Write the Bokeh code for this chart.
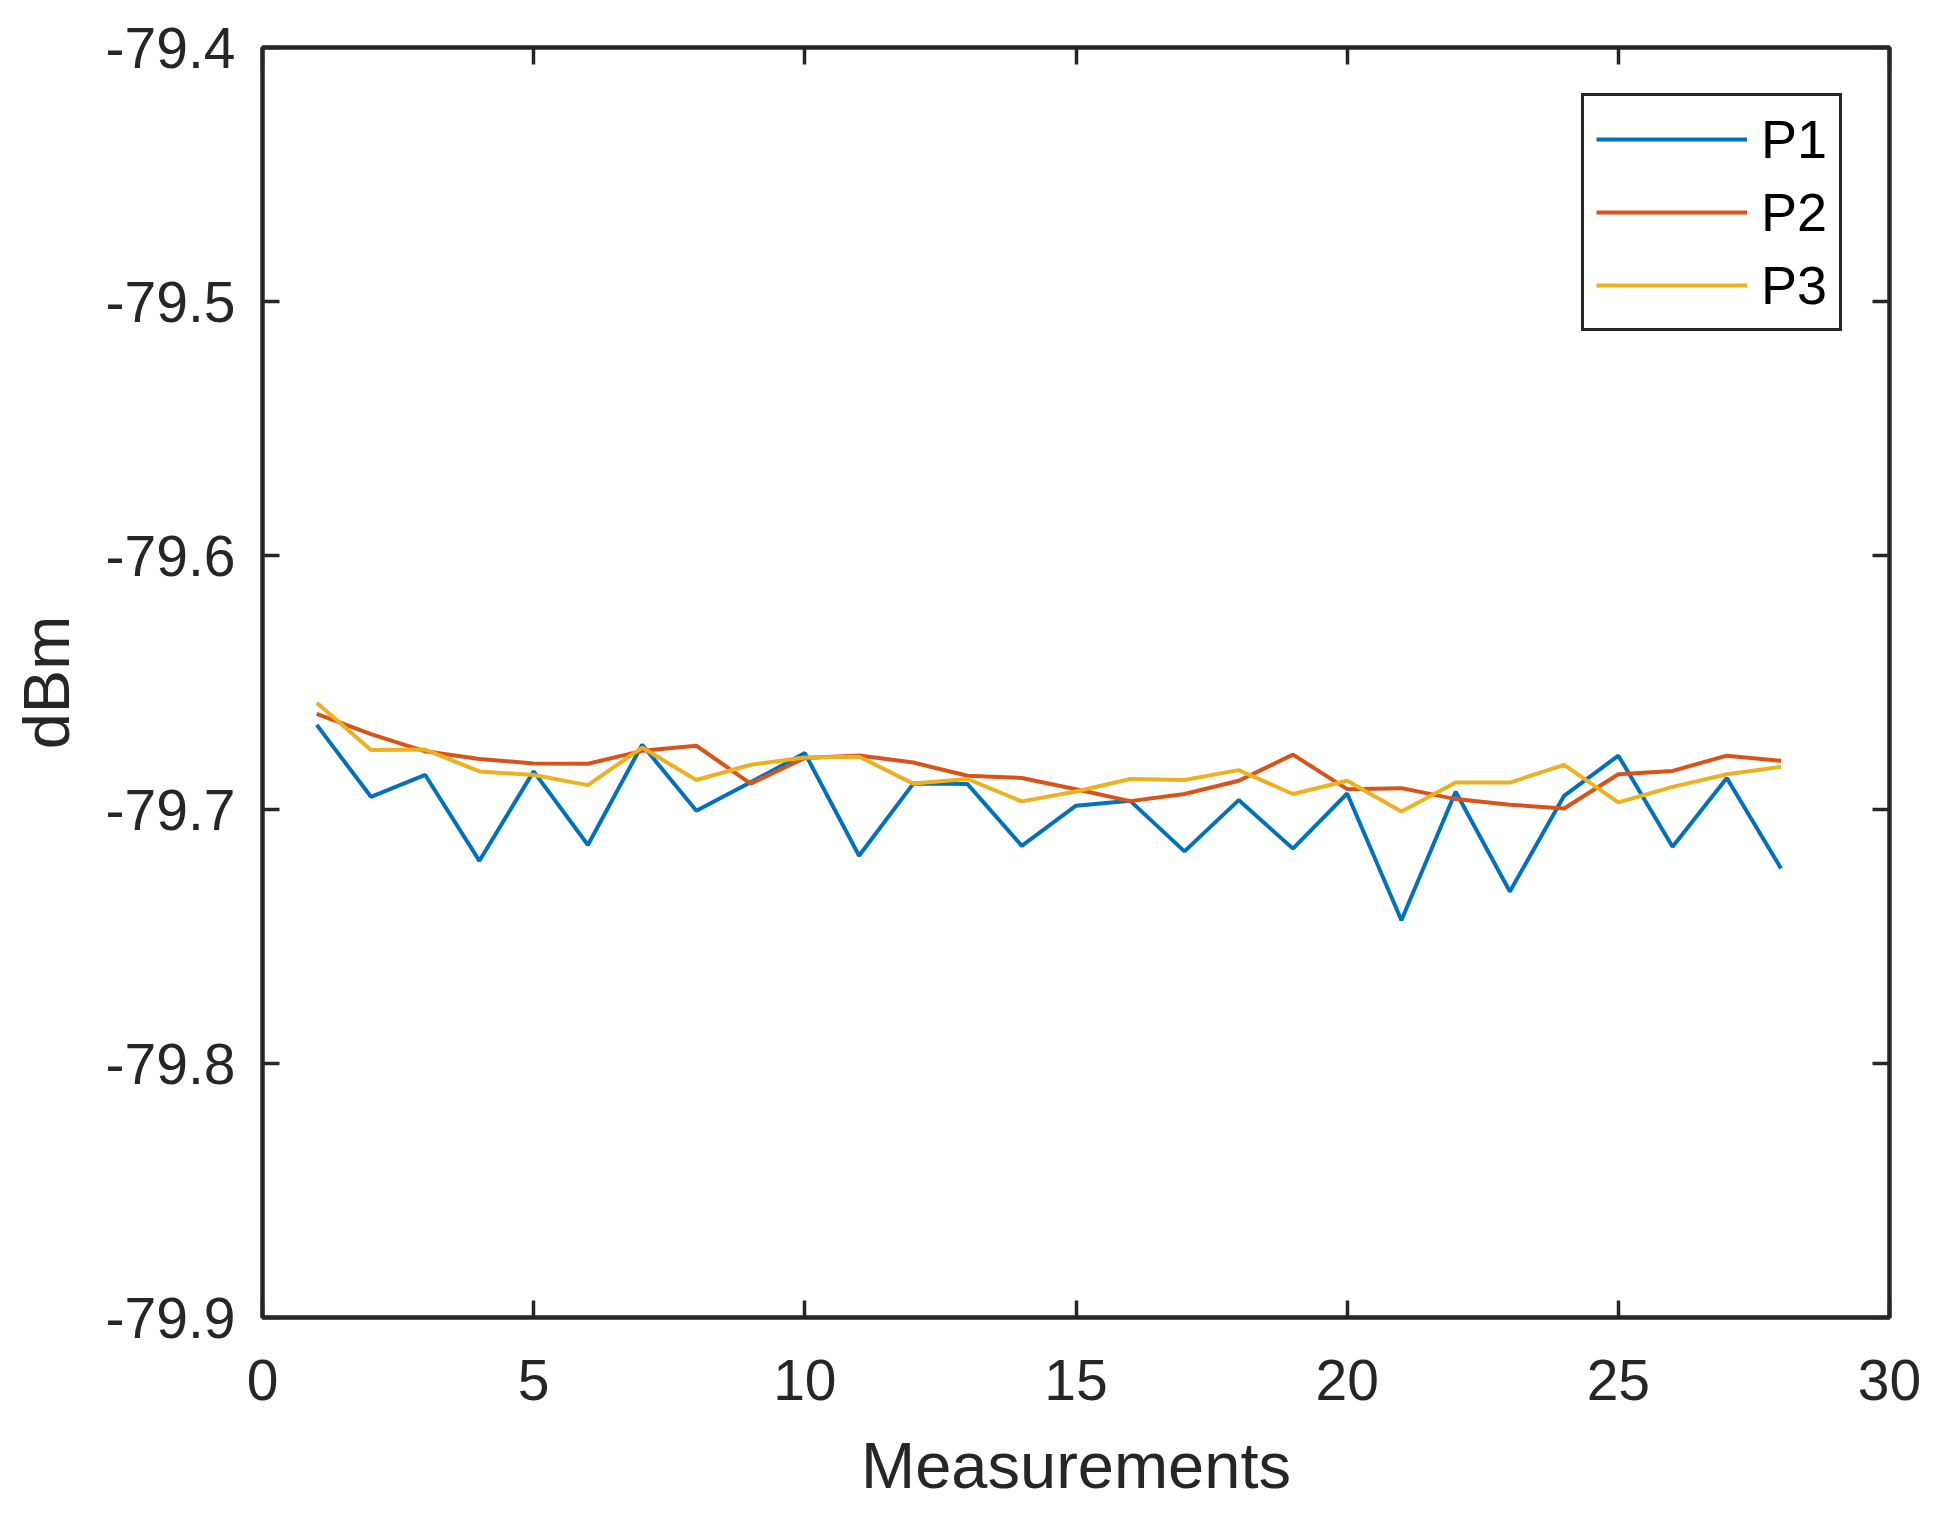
from bokeh.plotting import figure
from bokeh.models import Range1d, LinearAxis, FixedTicker
from bokeh.embed import file_html
from bokeh.resources import INLINE

# ---- data ----
measurements = list(range(1, 29))
P1 = [-79.6667, -79.6950, -79.6864, -79.7202, -79.6850, -79.7140, -79.6745, -79.7005,
      -79.6893, -79.6778, -79.7182, -79.6898, -79.6900, -79.7143, -79.6985, -79.6966,
      -79.7165, -79.6963, -79.7154, -79.6937, -79.7436, -79.6930, -79.7323, -79.6946,
      -79.6788, -79.7147, -79.6876, -79.7232]
P2 = [-79.6624, -79.6703, -79.6771, -79.6801, -79.6819, -79.6820, -79.6769, -79.6749,
      -79.6898, -79.6797, -79.6787, -79.6815, -79.6867, -79.6876, -79.6920, -79.6967,
      -79.6939, -79.6887, -79.6784, -79.6920, -79.6916, -79.6959, -79.6981, -79.6996,
      -79.6861, -79.6848, -79.6788, -79.6808]
P3 = [-79.6580, -79.6766, -79.6764, -79.6850, -79.6864, -79.6904, -79.6756, -79.6884,
      -79.6824, -79.6795, -79.6792, -79.6898, -79.6880, -79.6968, -79.6929, -79.6880,
      -79.6884, -79.6845, -79.6939, -79.6887, -79.7008, -79.6894, -79.6894, -79.6824,
      -79.6972, -79.6911, -79.6861, -79.6832]
series_names = ["P1", "P2", "P3"]
x_ticks = [0, 5, 10, 15, 20, 25, 30]
y_ticks = [-79.9, -79.8, -79.7, -79.6, -79.5, -79.4]

colors = ["#0072BD", "#D95319", "#EDB120"]
FONT = "Liberation Sans"
AX = "#262626"

p = figure(frame_width=1627, frame_height=1270, output_backend="svg", toolbar_location=None,
           x_range=Range1d(0, 30), y_range=Range1d(-79.9, -79.4),
           min_border_left=262, min_border_right=37, min_border_top=47, min_border_bottom=60,
           x_axis_label="Measurements", y_axis_label="dBm")
p.xgrid.visible = False
p.ygrid.visible = False
p.background_fill_color = "white"
p.border_fill_color = "white"
p.outline_line_color = AX
p.outline_line_width = 4
p.outline_line_alpha = 1.0

for ys, c, name in zip([P1, P2, P3], colors, series_names):
    p.line(measurements, ys, line_color=c, line_width=4, legend_label=name)

def style_axis(ax, ticks, labels=True):
    ax.ticker = FixedTicker(ticks=ticks)
    ax.axis_line_color = AX
    ax.axis_line_width = 4
    ax.major_tick_line_color = AX
    ax.major_tick_line_width = 3.5
    ax.major_tick_in = 17
    ax.major_tick_out = 0
    ax.minor_tick_line_color = None
    ax.major_label_text_font = FONT
    if labels:
        ax.major_label_text_color = AX
        ax.major_label_text_font_size = "57px"
    else:
        ax.major_label_text_color = None
        ax.major_label_text_font_size = "0px"
        ax.major_label_standoff = 0
    ax.axis_label_text_font = FONT
    ax.axis_label_text_font_size = "65px"
    ax.axis_label_text_font_style = "normal"
    ax.axis_label_text_color = AX

style_axis(p.xaxis[0], x_ticks)
style_axis(p.yaxis[0], y_ticks)
p.xaxis[0].major_label_standoff = 42
p.xaxis[0].axis_label_standoff = 26
p.yaxis[0].major_label_standoff = 27
p.yaxis[0].axis_label_standoff = 20
p.yaxis[0].major_label_overrides = {t: f"{t:.1f}" for t in y_ticks}

top = LinearAxis()
style_axis(top, x_ticks, labels=False)
p.add_layout(top, "above")
right = LinearAxis()
style_axis(right, y_ticks, labels=False)
p.add_layout(right, "right")

lg = p.legend[0]
lg.location = (1319, 986)
lg.margin = 0
lg.padding = 12
lg.spacing = 11
lg.glyph_width = 151
lg.glyph_height = 62
lg.label_height = 62
lg.label_standoff = 14
lg.label_text_font = FONT
lg.label_text_font_size = "54px"
lg.label_text_color = "black"
lg.border_line_color = AX
lg.border_line_width = 3.5
lg.border_line_alpha = 1.0
lg.background_fill_color = "white"
lg.background_fill_alpha = 1.0

open("out.html", "w").write(file_html(p, INLINE))
